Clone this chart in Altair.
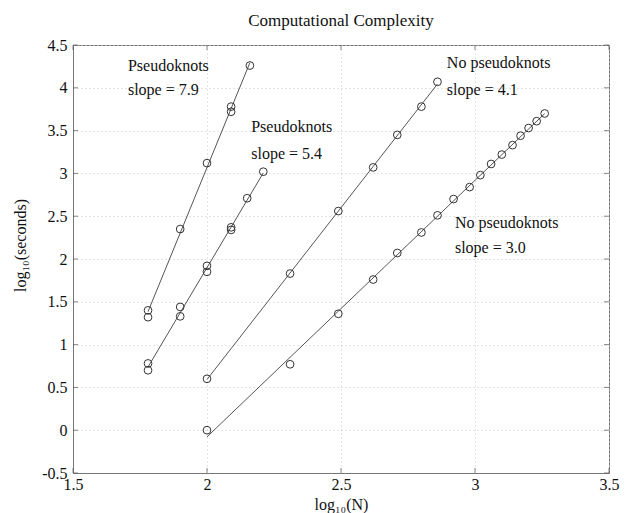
import altair as alt
import pandas as pd

# Pseudoknots, slope 7.9
a_x = [1.78, 1.78, 1.90, 2.00, 2.09, 2.09, 2.16]
a_y = [1.40, 1.32, 2.35, 3.12, 3.78, 3.72, 4.26]
# Pseudoknots, slope 5.4
b_x = [1.78, 1.78, 1.90, 1.90, 2.00, 2.00, 2.09, 2.09, 2.15, 2.21]
b_y = [0.78, 0.70, 1.44, 1.33, 1.92, 1.85, 2.37, 2.34, 2.71, 3.02]
# No pseudoknots, slope 4.1
c_x = [2.00, 2.31, 2.49, 2.62, 2.71, 2.80, 2.86]
c_y = [0.60, 1.83, 2.56, 3.07, 3.45, 3.78, 4.07]
# No pseudoknots, slope 3.0
d_x = [2.00, 2.31, 2.49, 2.62, 2.71, 2.80, 2.86, 2.92, 2.98, 3.02, 3.06,
       3.10, 3.14, 3.17, 3.20, 3.23, 3.26]
d_y = [0.00, 0.77, 1.36, 1.76, 2.07, 2.31, 2.51, 2.70, 2.84, 2.98, 3.11,
       3.22, 3.33, 3.44, 3.53, 3.61, 3.70]

series_names = ["pk79", "pk54", "npk41", "npk30"]

ann_text = ["Pseudoknots", "slope = 7.9", "Pseudoknots", "slope = 5.4",
            "No pseudoknots", "slope = 4.1", "No pseudoknots", "slope = 3.0"]
ann_x = [1.705, 1.705, 2.165, 2.165, 2.895, 2.895, 2.925, 2.925]
ann_y = [4.26, 3.97, 3.54, 3.23, 4.29, 3.98, 2.42, 2.13]

x_ticks = [1.5, 2, 2.5, 3, 3.5]
y_ticks = [-0.5, 0, 0.5, 1, 1.5, 2, 2.5, 3, 3.5, 4, 4.5]

rows = []
for name, xs, ys in zip(series_names, [a_x, b_x, c_x, d_x], [a_y, b_y, c_y, d_y]):
    for xv, yv in zip(xs, ys):
        rows.append({"series": name, "x": xv, "y": yv})
df = pd.DataFrame(rows)
ann = pd.DataFrame({"x": ann_x, "y": ann_y, "text": ann_text})
xt = pd.DataFrame({"x": x_ticks})
yt = pd.DataFrame({"y": y_ticks})

FONT = "Liberation Serif"
W, H = 536, 428
xscale = alt.Scale(domain=[1.5, 3.5], nice=False, zero=False)
yscale = alt.Scale(domain=[-0.5, 4.5], nice=False, zero=False)

x_enc = alt.X("x:Q", scale=xscale, axis=alt.Axis(
    values=x_ticks, title="log₁₀(N)", labelExpr="toString(datum.value)",
    labelPadding=3, titleY=31, titleBaseline="middle"))
y_enc = alt.Y("y:Q", scale=yscale, axis=alt.Axis(
    values=y_ticks, title="log₁₀(seconds)", labelExpr="toString(datum.value)",
    labelPadding=6, titleX=-53, titleY=200, titleBaseline="middle"))

base = alt.Chart(df)
lines = base.transform_regression("x", "y", groupby=["series"]).mark_line(
    color="#555", strokeWidth=1).encode(x=x_enc, y=y_enc, detail="series:N")
points = base.mark_point(shape="circle", filled=False, size=60, color="#333",
                         strokeWidth=1, opacity=1).encode(x=x_enc, y=y_enc)
texts = alt.Chart(ann).mark_text(font=FONT, fontSize=16, align="left",
                                 baseline="middle", color="#111").encode(
    x=x_enc, y=y_enc, text="text:N")

# inward ticks on all four sides (MATLAB style)
tick_style = dict(color="#555", thickness=1, size=5)
xt_bottom = alt.Chart(xt).mark_tick(orient="vertical", **tick_style).encode(
    x=x_enc, y=alt.value(H - 2.5))
xt_top = alt.Chart(xt).mark_tick(orient="vertical", **tick_style).encode(
    x=x_enc, y=alt.value(2.5))
yt_left = alt.Chart(yt).mark_tick(orient="horizontal", **tick_style).encode(
    y=y_enc, x=alt.value(2.5))
yt_right = alt.Chart(yt).mark_tick(orient="horizontal", **tick_style).encode(
    y=y_enc, x=alt.value(W - 2.5))

chart = alt.layer(lines, points, texts, xt_bottom, xt_top, yt_left, yt_right).properties(
    width=W, height=H,
    autosize=alt.AutoSizeParams(type="none"),
    padding={"left": 65, "top": 37, "right": 15, "bottom": 40},
    title=alt.TitleParams("Computational Complexity", font=FONT, fontSize=17,
                          fontWeight="normal", color="#111", offset=7),
).configure_axis(
    labelFont=FONT, labelFontSize=16, labelColor="#111",
    titleFont=FONT, titleFontSize=16, titleFontWeight="normal", titleColor="#111",
    domainColor="#777", gridColor="#c8c8c8", gridDash=[1, 3], tickSize=0,
    labelOverlap=False, labelFlush=False, labelBound=False,
).configure_view(stroke="#777")

chart.save("out.html", embed_options={"renderer": "svg", "actions": False})
